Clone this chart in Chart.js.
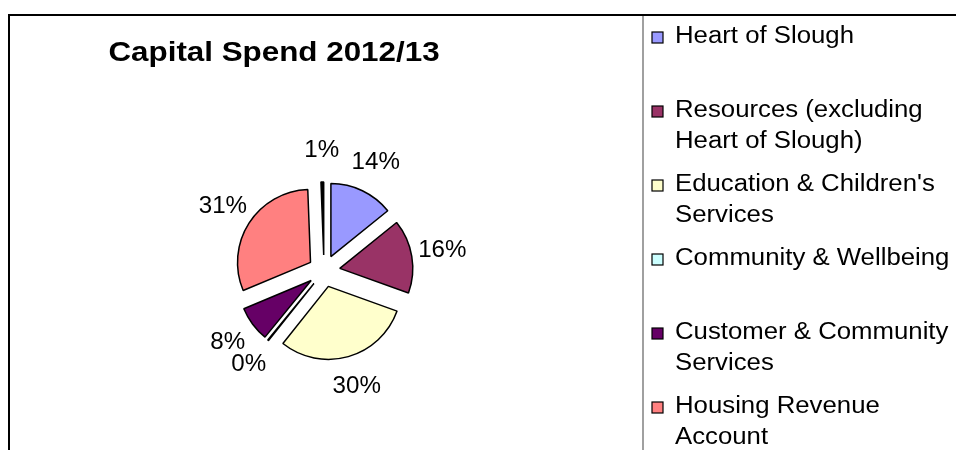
<!DOCTYPE html>
<html>
<head>
<meta charset="utf-8">
<script src="https://cdn.jsdelivr.net/npm/chart.js@4.4.1/dist/chart.umd.min.js"></script>
<style>
  html, body { margin: 0; padding: 0; background: #fff; overflow: hidden; }
  #wrap { width: 956px; height: 450px; }
</style>
</head>
<body>
<div id="wrap"><canvas id="capitalChart" width="956" height="450"></canvas></div>
<script>
// data (shares of capital spend, %)
const chartTitle = 'Capital Spend 2012/13';
const categories = [
    'Heart of Slough',
    'Resources (excluding Heart of Slough)',
    "Education & Children's Services",
    'Community & Wellbeing',
    'Customer & Community Services',
    'Housing Revenue Account',
    'Other'
];
const spendShare = [14.2, 16.3, 30.2, 0.2, 7.8, 30.7, 0.6];
const sliceColours = ['#9999FF', '#993366', '#FFFFCC', '#CCFFFF', '#660066', '#FF8080', '#000000'];

const FONT = '"Liberation Sans", Arial, sans-serif';
const EXPLODE = 16;      // how far each slice is pulled out
const LABEL_GAP = 31;    // label centre beyond the exploded edge
const STRETCH = 1.12;    // the original text is a bit wider than Arial

function stretchedText(ctx, text, x, y, sx) {
    ctx.save();
    ctx.translate(x, y);
    ctx.scale(sx, 1);
    ctx.fillText(text, 0, 0);
    ctx.restore();
}

// draw each arc pulled out along its middle angle
const explodePlugin = {
    id: 'explode',
    beforeDatasetDraw(chart, args) {
        const ctx = chart.ctx;
        args.meta.data.forEach(arc => {
            const p = arc.getProps(['startAngle', 'endAngle']);
            const mid = (p.startAngle + p.endAngle) / 2;
            ctx.save();
            ctx.translate(Math.cos(mid) * EXPLODE, Math.sin(mid) * EXPLODE);
            arc.draw(ctx);
            ctx.restore();
        });
        return false;
    }
};

const percentLabels = {
    id: 'percentLabels',
    afterDatasetsDraw(chart) {
        const ctx = chart.ctx;
        const meta = chart.getDatasetMeta(0);
        const values = chart.data.datasets[0].data;
        const total = values.reduce((a, b) => a + b, 0);
        ctx.save();
        ctx.font = '23px ' + FONT;
        ctx.fillStyle = '#000';
        ctx.textAlign = 'center';
        ctx.textBaseline = 'middle';
        meta.data.forEach((arc, i) => {
            const p = arc.getProps(['x', 'y', 'startAngle', 'endAngle', 'outerRadius']);
            const mid = (p.startAngle + p.endAngle) / 2;
            const r = p.outerRadius + EXPLODE + LABEL_GAP;
            const txt = Math.round(values[i] / total * 100) + '%';
            stretchedText(ctx, txt, p.x + Math.cos(mid) * r, p.y + Math.sin(mid) * r, 1.05);
        });
        ctx.restore();
    }
};

function wrapText(ctx, text, maxWidth) {
    const words = text.split(' ');
    const lines = [];
    let line = '';
    words.forEach(w => {
        const test = line ? line + ' ' + w : w;
        if (line && ctx.measureText(test).width > maxWidth) {
            lines.push(line);
            line = w;
        } else {
            line = test;
        }
    });
    if (line) lines.push(line);
    return lines;
}

// frame, title and the boxed legend on the right
const frameAndLegend = {
    id: 'frameAndLegend',
    afterDraw(chart) {
        const ctx = chart.ctx;
        ctx.save();
        ctx.strokeStyle = '#000';
        ctx.lineWidth = 2;
        ctx.beginPath();
        ctx.moveTo(9, 450);
        ctx.lineTo(9, 15);
        ctx.lineTo(956, 15);
        ctx.stroke();

        ctx.strokeStyle = '#808080';
        ctx.lineWidth = 1.5;
        ctx.beginPath();
        ctx.moveTo(643, 16);
        ctx.lineTo(643, 450);
        ctx.stroke();

        ctx.fillStyle = '#000';
        ctx.font = 'bold 28px ' + FONT;
        ctx.textAlign = 'center';
        ctx.textBaseline = 'middle';
        stretchedText(ctx, chartTitle, 274, 53, STRETCH);

        ctx.font = '23px ' + FONT;
        ctx.textAlign = 'left';
        const colours = chart.data.datasets[0].backgroundColor;
        chart.data.labels.forEach((label, i) => {
            const y = 37 + i * 74;
            ctx.fillStyle = colours[i];
            ctx.fillRect(652, y - 5, 11, 11);
            ctx.strokeStyle = '#000';
            ctx.lineWidth = 1.2;
            ctx.strokeRect(652, y - 5, 11, 11);
            ctx.fillStyle = '#000';
            wrapText(ctx, label, 262).forEach((ln, k) => {
                stretchedText(ctx, ln, 675, y + k * 31, STRETCH);
            });
        });
        ctx.restore();
    }
};

new Chart(document.getElementById('capitalChart'), {
    type: 'pie',
    data: {
        labels: categories,
        datasets: [{
            data: spendShare,
            backgroundColor: sliceColours,
            borderColor: '#000',
            borderWidth: 1.5,
            radius: 73
        }]
    },
    options: {
        responsive: false,
        animation: false,
        devicePixelRatio: 1,
        layout: { padding: { left: 200, right: 508, top: 180, bottom: 88 } },
        plugins: {
            legend: { display: false },
            tooltip: { enabled: false },
            title: { display: false }
        }
    },
    plugins: [explodePlugin, percentLabels, frameAndLegend]
});
</script>
</body>
</html>
